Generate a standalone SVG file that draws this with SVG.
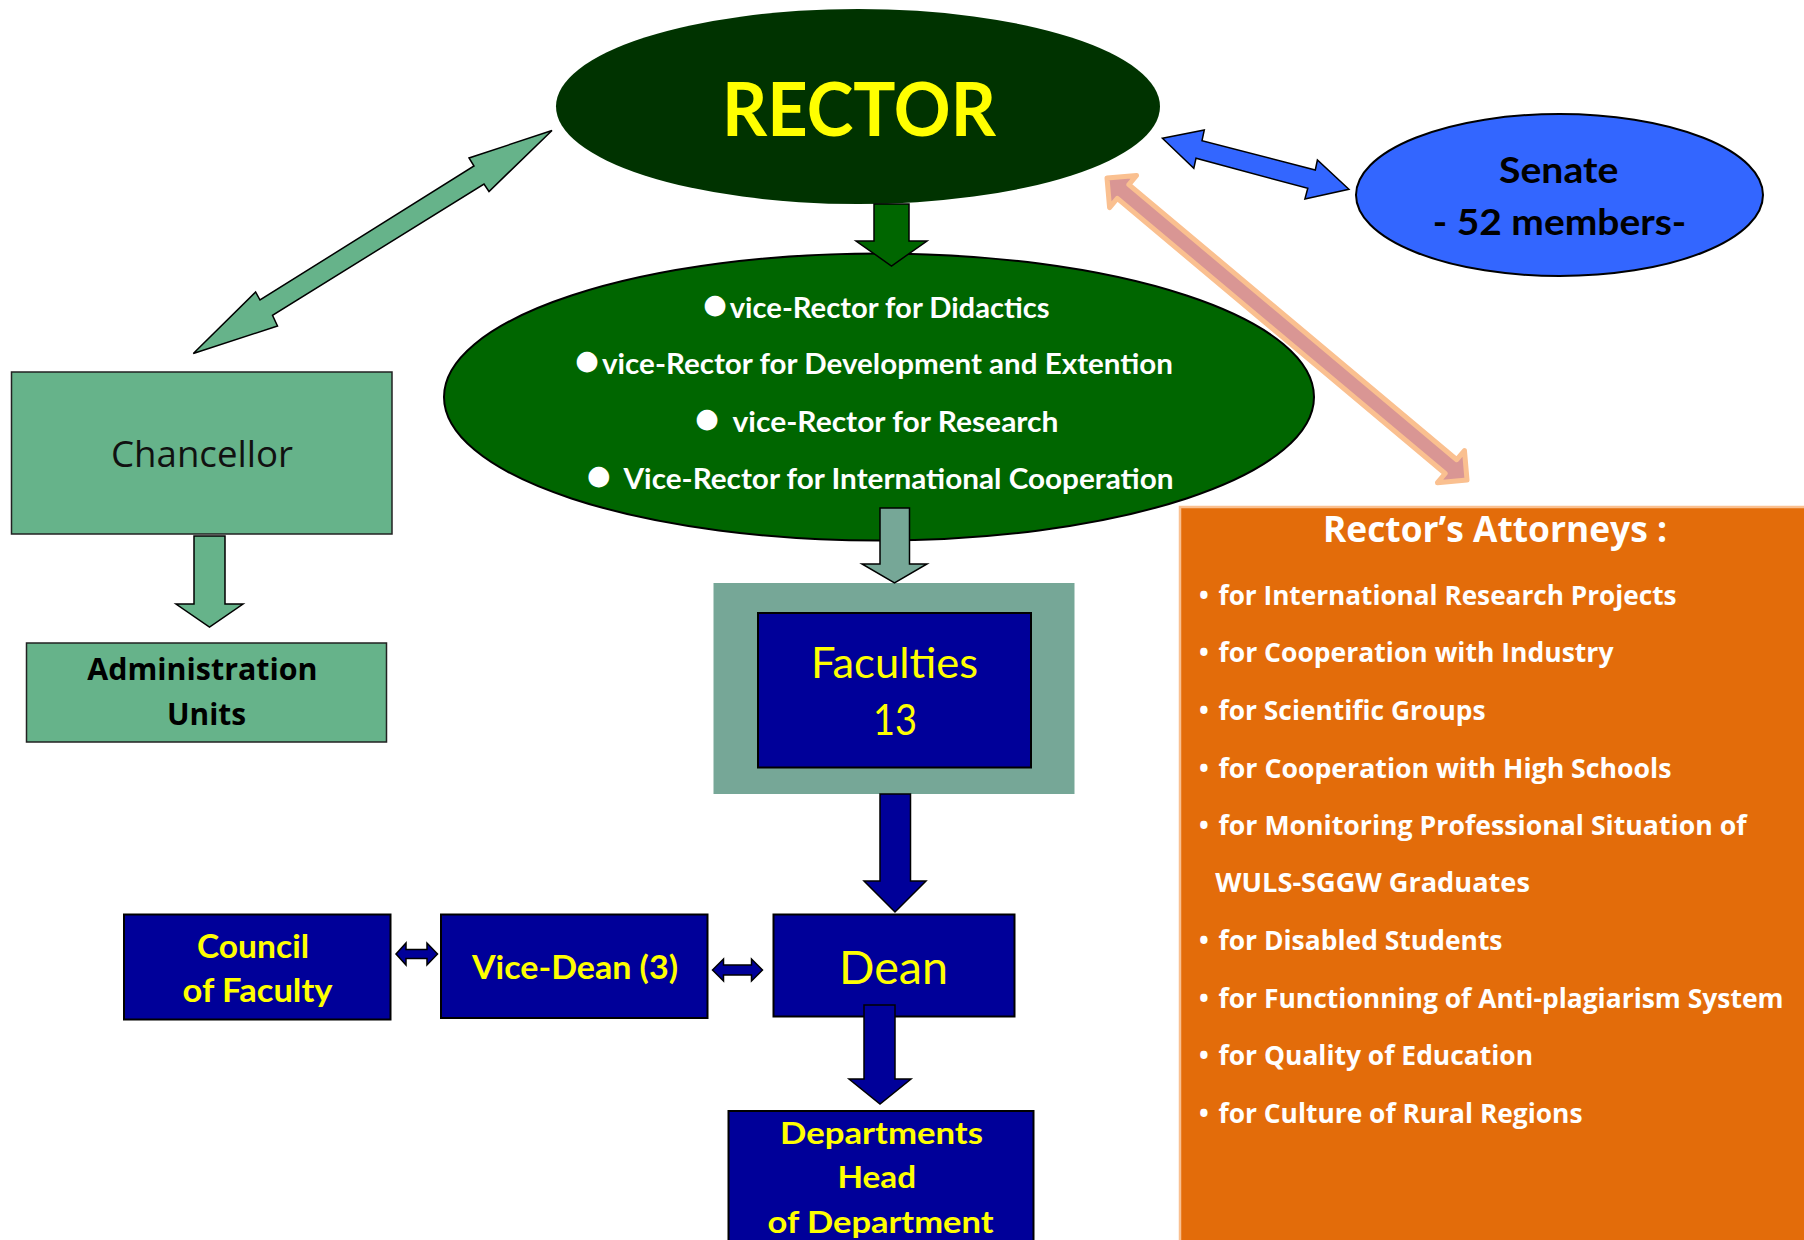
<svg xmlns="http://www.w3.org/2000/svg" width="1804" height="1240" viewBox="0 0 1804 1240">
<style>
.lb{font-family:Lato,"Liberation Sans",sans-serif;font-weight:bold}
.lr{font-family:Lato,"Liberation Sans",sans-serif;font-weight:normal}
.ob{font-family:"Open Sans","Liberation Sans",sans-serif;font-weight:bold}
.or{font-family:"Open Sans","Liberation Sans",sans-serif;font-weight:normal}
.bul{font-family:"DejaVu Sans",sans-serif;font-weight:normal}
.y{fill:#ffff00}
.w{fill:#ffffff}
.k{fill:#000000}
.navy{fill:#000099;stroke:#000;stroke-width:2}
.lg{fill:#66b38a;stroke:#222;stroke-width:1.5}
.blk{stroke:#000;stroke-width:1.5;stroke-linejoin:miter}
</style>
<rect width="1804" height="1240" fill="#ffffff"/>

<g id="attorneys">
<rect x="1180" y="507" width="640" height="760" fill="#e36c0a" stroke="#fac090" stroke-width="2.5"/>
<text class="ob w" font-size="35" x="1323" y="541.5" textLength="344" lengthAdjust="spacingAndGlyphs">Rector’s Attorneys :</text>
<g class="ob w" font-size="26">
<text y="604.7"><tspan x="1199">•</tspan><tspan x="1218.5" textLength="458" lengthAdjust="spacingAndGlyphs">for International Research Projects</tspan></text>
<text y="662.2"><tspan x="1199">•</tspan><tspan x="1218.5" textLength="395" lengthAdjust="spacingAndGlyphs">for Cooperation with Industry</tspan></text>
<text y="720.1"><tspan x="1199">•</tspan><tspan x="1218.5" textLength="267" lengthAdjust="spacingAndGlyphs">for Scientific Groups</tspan></text>
<text y="777.5"><tspan x="1199">•</tspan><tspan x="1218.5" textLength="453" lengthAdjust="spacingAndGlyphs">for Cooperation with High Schools</tspan></text>
<text y="834.5"><tspan x="1199">•</tspan><tspan x="1218.5" textLength="528" lengthAdjust="spacingAndGlyphs">for Monitoring Professional Situation of</tspan></text>
<text y="891.9" x="1215.3" textLength="314.6" lengthAdjust="spacingAndGlyphs">WULS-SGGW Graduates</text>
<text y="949.8"><tspan x="1199">•</tspan><tspan x="1218.5" textLength="284" lengthAdjust="spacingAndGlyphs">for Disabled Students</tspan></text>
<text y="1007.7"><tspan x="1199">•</tspan><tspan x="1218.5" textLength="565" lengthAdjust="spacingAndGlyphs">for Functionning of Anti-plagiarism System</tspan></text>
<text y="1065.1"><tspan x="1199">•</tspan><tspan x="1218.5" textLength="314.6" lengthAdjust="spacingAndGlyphs">for Quality of Education</tspan></text>
<text y="1123.1"><tspan x="1199">•</tspan><tspan x="1218.5" textLength="364" lengthAdjust="spacingAndGlyphs">for Culture of Rural Regions</tspan></text>
</g>
</g>

<g id="rector">
<ellipse cx="858" cy="106.5" rx="302" ry="97.5" fill="#003300"/>
<text class="lb y" font-size="75" x="722" y="136" textLength="274" lengthAdjust="spacingAndGlyphs">RECTOR</text>
</g>

<g id="vice-rectors">
<ellipse cx="879" cy="397" rx="435" ry="143.5" fill="#006600" stroke="#000" stroke-width="2"/>
<g class="lb w" font-size="28">
<text y="318"><tspan class="bul" font-size="27" x="715" y="313.4" text-anchor="middle">●</tspan><tspan x="729.7" y="318" textLength="320" lengthAdjust="spacingAndGlyphs">vice-Rector for Didactics</tspan></text>
<text y="374"><tspan class="bul" font-size="27" x="587" y="369.4" text-anchor="middle">●</tspan><tspan x="602" y="374" textLength="571" lengthAdjust="spacingAndGlyphs">vice-Rector for Development and Extention</tspan></text>
<text y="432.3"><tspan class="bul" font-size="27" x="707" y="427.4" text-anchor="middle">●</tspan><tspan x="732.5" y="432.3" textLength="326" lengthAdjust="spacingAndGlyphs">vice-Rector  for Research</tspan></text>
<text y="489.3"><tspan class="bul" font-size="27" x="598.7" y="484.1" text-anchor="middle">●</tspan><tspan x="623.5" y="489.3" textLength="550" lengthAdjust="spacingAndGlyphs">Vice-Rector for International Cooperation</tspan></text>
</g>
</g>

<g id="senate">
<ellipse cx="1559.5" cy="195" rx="203.5" ry="81" fill="#3366ff" stroke="#000" stroke-width="2"/>
<text class="lb k" font-size="36" x="1499" y="183.3" textLength="119.4" lengthAdjust="spacingAndGlyphs">Senate</text>
<text class="lb k" font-size="36" x="1432.7" y="235" textLength="253.6" lengthAdjust="spacingAndGlyphs">- 52 members-</text>
</g>

<g id="chancellor">
<rect class="lg" x="11.5" y="372" width="380.5" height="162"/>
<text class="or" fill="#111" font-size="36" x="111" y="467" textLength="182" lengthAdjust="spacingAndGlyphs">Chancellor</text>
</g>

<g id="administration">
<rect class="lg" x="26.5" y="643" width="360" height="99"/>
<text class="ob k" font-size="30" x="87.3" y="679.6" textLength="230.3" lengthAdjust="spacingAndGlyphs">Administration</text>
<text class="ob k" font-size="30" x="167" y="724.7" textLength="79" lengthAdjust="spacingAndGlyphs">Units</text>
</g>

<g id="faculties">
<rect x="713.5" y="583" width="361" height="211" fill="#76a797"/>
<rect class="navy" x="758" y="613" width="273" height="154.5"/>
<text class="lr y" font-size="42" x="811" y="677.7" textLength="167" lengthAdjust="spacingAndGlyphs">Faculties</text>
<text class="lr y" font-size="42" x="873" y="735.3" textLength="44" lengthAdjust="spacingAndGlyphs">13</text>
</g>

<g id="dean">
<rect class="navy" x="773.5" y="914.5" width="241" height="102"/>
<text class="lr y" font-size="46" x="839" y="984" textLength="109" lengthAdjust="spacingAndGlyphs">Dean</text>
</g>

<g id="vice-dean">
<rect class="navy" x="441" y="914.5" width="266.5" height="103.5"/>
<text class="lb y" font-size="33" x="472" y="979" textLength="206" lengthAdjust="spacingAndGlyphs">Vice-Dean (3)</text>
</g>

<g id="council">
<rect class="navy" x="124" y="914.5" width="266.5" height="105"/>
<text class="lb y" font-size="33" x="197" y="958.3" textLength="112" lengthAdjust="spacingAndGlyphs">Council</text>
<text class="lb y" font-size="33" x="182.5" y="1001.6" textLength="150" lengthAdjust="spacingAndGlyphs">of Faculty</text>
</g>

<g id="departments">
<rect class="navy" x="728.5" y="1111" width="305" height="160"/>
<text class="lb y" font-size="31" x="780" y="1143.5" textLength="203" lengthAdjust="spacingAndGlyphs">Departments</text>
<text class="lb y" font-size="31" x="837.5" y="1187.7" textLength="78.5" lengthAdjust="spacingAndGlyphs">Head</text>
<text class="lb y" font-size="31" x="767.5" y="1233" textLength="226" lengthAdjust="spacingAndGlyphs">of Department</text>
</g>

<g id="connectors">
<polygon class="blk" fill="#66b38a" points="552,130.5 469,158 474,166 260,300 255.6,292 193.3,353.5 277.5,326 272.5,315.4 484,184 489,191.5"/>
<polygon class="blk" fill="#3366ff" points="1162.4,138.3 1204.3,130 1202,140.7 1315.3,170 1317.4,160 1348.9,189.3 1304.9,199 1307.8,188.3 1196,158.3 1193.8,168.3"/>
<polygon transform="translate(1107,178) rotate(40)" fill="#d99694" stroke="#fac090" stroke-width="5" stroke-linejoin="round" points="0,0 21,-21 21,-9 449,-9 449,-21 470,0 449,21 449,9 21,9 21,21"/>
<polygon class="blk" fill="#006600" points="874,204 909,204 909,241 927,241 891.5,266 856,241 874,241"/>
<polygon class="blk" fill="#66b38a" points="194,536 225,536 225,604 243,604 209.5,627 176,604 194,604"/>
<polygon class="blk" fill="#76a797" points="880,508 909.5,508 909.5,564 927,564 894.5,583 862,564 880,564"/>
<polygon class="blk" fill="#000099" points="880,794 910.5,794 910.5,881 926,881 895,912 864,881 880,881"/>
<polygon class="blk" fill="#000099" points="864,1005 895,1005 895,1079 911,1079 880,1104 849,1079 864,1079"/>
<polygon class="blk" fill="#000099" points="396,954 406,943 406,949.5 427,949.5 427,943 437.5,954 427,965 427,958.5 406,958.5 406,965"/>
<polygon class="blk" fill="#000099" points="712.5,970 723.5,959 723.5,965 751.5,965 751.5,959 762.5,970 751.5,981 751.5,975 723.5,975 723.5,981"/>
</g>
</svg>
